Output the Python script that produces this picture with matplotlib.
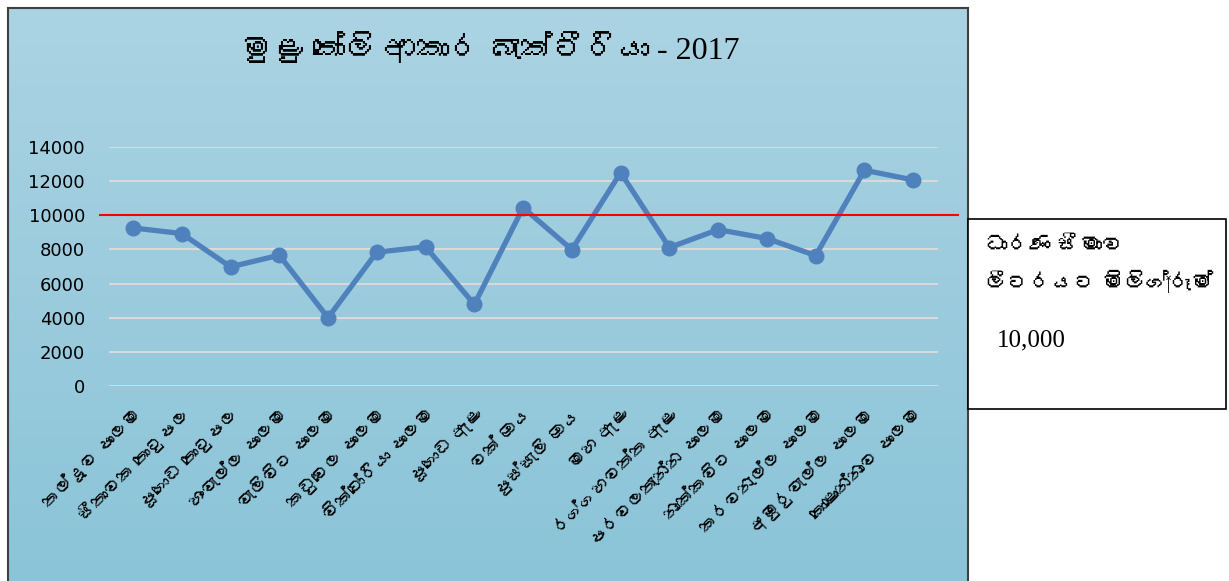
import numpy as np
import matplotlib
matplotlib.use("Agg")
import matplotlib.pyplot as plt
from matplotlib import font_manager
from matplotlib.patches import Rectangle
from fontTools.ttLib import TTFont

# data
places = ["තල්දූව පාලම", "සීතාවක තොටුපල", "පූගොඩ තොටුපල", "හංවැල්ල පාලම",
          "වැලිවිට පාලම", "කඩුවෙල පාලම", "වික්ටෝරියා පාලම", "පූගොඩ ඇළ",
          "වක් ඔය", "පුස්සැලි ඔය", "මහ ඇළ", "රග්ගහවත්ත ඇළ",
          "පරවලතැන්න පාලම", "නාක්කවිට පාලම", "කරවනැල්ල පාලම",
          "අඹුරුවැල්ල පාලම", "කොළොන්නාව පාලම"]
coliform = [9260, 8930, 6980, 7660, 4000, 7840, 8150, 4780, 10450,
            7990, 12500, 8110, 9160, 8640, 7640, 12640, 12070]
limit = 10000
yticks = [0, 2000, 4000, 6000, 8000, 10000, 12000, 14000]

title = "මුළු කෝලි ආකාර බැක්ටීරියා - 2017"
note_lines = ["ධාරණ සීමාව", "ලීටරයට මිලිග්‍රෑම්", "10,000"]


# look for any installed font that has Sinhala glyphs
def sinhala_font():
    for entry in font_manager.fontManager.ttflist:
        try:
            tt = TTFont(entry.fname, fontNumber=0, lazy=True)
            if 0x0DB4 in tt.getBestCmap():
                return entry.name
        except Exception:
            continue
    return None


sin = sinhala_font()
sans = ["DejaVu Sans"] + ([sin] if sin else [])
serif = ["Liberation Serif"] + ([sin] if sin else [])

W, H = 1229, 581
fig = plt.figure(figsize=(W / 100, H / 100), dpi=100)

# chart area with gradient background
bg = fig.add_axes([8 / W, 0, (968 - 8) / W, (581 - 8) / H])
grad = np.linspace(0, 1, 256).reshape(-1, 1)
top = np.array([0xab, 0xd3, 0xe3]) / 255
bot = np.array([0x8b, 0xc4, 0xd8]) / 255
img = top + (bot - top) * grad[:, :, None]
bg.imshow(img, aspect="auto", extent=[0, 1, 0, 1])
bg.set_xticks([])
bg.set_yticks([])
for s in ["left", "top", "right"]:
    bg.spines[s].set_color("#404040")
    bg.spines[s].set_linewidth(1.5)
bg.spines["bottom"].set_visible(False)

ax = fig.add_axes([108.6 / W, (H - 386) / H, 829 / W, (386 - 147) / H])
ax.set_facecolor("none")
x = np.arange(len(places))
ax.plot(x, coliform, color="#4f81bd", lw=3.8, marker="o", ms=10.5, zorder=3)
ax.axhline(limit, xmin=-0.0104, xmax=1.0246, color="#ff0000", lw=1.5,
           clip_on=False, zorder=4)
ax.set_xlim(-0.5, len(places) - 0.5)
ax.set_ylim(0, 14000)
ax.set_yticks(yticks)
ax.set_yticklabels([str(v) for v in yticks], fontsize=13, family="DejaVu Sans")
ax.yaxis.grid(True, color="#d9d9d9", lw=1.5)
ax.set_axisbelow(True)
ax.tick_params(length=0)
ax.tick_params(axis="y", pad=17)
ax.tick_params(axis="x", pad=14)
ax.set_xticks(x)
ax.set_xticklabels(places, rotation=45, ha="right", rotation_mode="anchor",
                   fontsize=13, family=sans)
for s in ax.spines.values():
    s.set_visible(False)

fig.text(490 / W, 1 - 50 / H, title, ha="center", va="center",
         fontsize=23, family=serif)

# limit note box
fig.patches.append(Rectangle((968 / W, 1 - 409 / H), (1226 - 968) / W, (409 - 219) / H,
                             transform=fig.transFigure, facecolor="white",
                             edgecolor="black", lw=1.2))
fig.text(985 / W, 1 - 247 / H, note_lines[0], ha="left", va="center",
         fontsize=16, family=serif)
fig.text(985 / W, 1 - 283 / H, note_lines[1], ha="left", va="center",
         fontsize=16, family=serif)
fig.text(997 / W, 1 - 340 / H, note_lines[2], ha="left", va="center",
         fontsize=18, family=serif)

fig.savefig("out.png", dpi=100)
